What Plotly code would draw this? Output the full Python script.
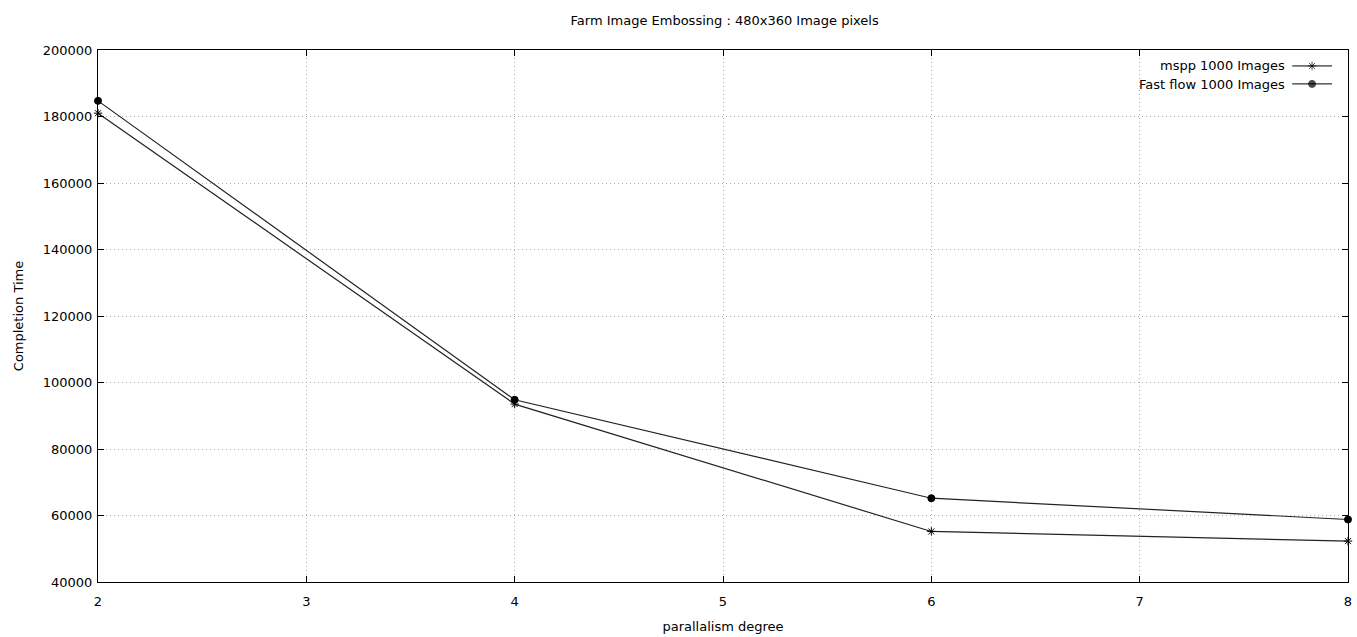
import plotly.graph_objects as go

# Parallelism degrees tested
degrees = [2, 4, 6, 8]

# Completion times for 1000 images
mspp_times = [181000, 93500, 55200, 52300]
fastflow_times = [184700, 94800, 65200, 58800]

series_names = ["mspp 1000 Images", "Fast flow 1000 Images"]
y_ticks = [40000, 60000, 80000, 100000, 120000, 140000, 160000, 180000, 200000]
y_tick_labels = [str(v) for v in y_ticks]
x_ticks = [2, 3, 4, 5, 6, 7, 8]

FONT = "DejaVu Sans"
FS = 13
symbols = ["asterisk-open", "circle"]
sizes = [7, 7]

fig = go.Figure()
for name, vals, sym, sz in zip(series_names, [mspp_times, fastflow_times], symbols, sizes):
    fig.add_trace(go.Scatter(
        x=degrees, y=vals, name=name, mode="lines+markers",
        line=dict(color="#222222", width=1.2),
        marker=dict(symbol=sym, size=sz, color="black",
                    line=dict(color="black", width=1)),
        cliponaxis=False, showlegend=False,
    ))

# Key: text on the left, line sample with marker on the right
key_rows = [0.75, 0.25]
key_text_y = [0.970, 0.936]
for name, sym, sz, ry, ty in zip(series_names, symbols, sizes, key_rows, key_text_y):
    fig.add_trace(go.Scatter(
        x=[0, 0.5, 1], y=[ry, ry, ry], mode="lines+markers",
        line=dict(color="black", width=1),
        marker=dict(symbol=sym, size=[0, sz, 0], color="black",
                    line=dict(color="black", width=1)),
        xaxis="x2", yaxis="y2", showlegend=False, hoverinfo="skip",
        cliponaxis=False,
    ))
    fig.add_annotation(
        x=0.951, y=ty, xref="paper", yref="paper", text=name,
        showarrow=False, xanchor="right", yanchor="middle",
        font=dict(family=FONT, size=FS, color="black"),
    )

axis_common = dict(
    showline=True, linecolor="black", linewidth=1, mirror="ticks",
    ticks="inside", ticklen=6, tickcolor="black",
    showgrid=True, gridcolor="#b0b0b0", griddash="1px,3px", gridwidth=1,
    zeroline=False, tickfont=dict(family=FONT, size=FS, color="black"),
)

fig.update_layout(
    width=1357, height=637,
    margin=dict(l=98, r=5, t=50, b=54),
    paper_bgcolor="white", plot_bgcolor="white",
    title=dict(text="Farm Image Embossing : 480x360 Image pixels",
               x=0.534, xanchor="center", y=0.968, yanchor="middle",
               font=dict(family=FONT, size=FS, color="black")),
    xaxis=dict(range=[2, 8], tickvals=x_ticks,
               title=dict(text="parallalism degree", standoff=14,
                          font=dict(family=FONT, size=FS, color="black")),
               ticklabelstandoff=7, **axis_common),
    yaxis=dict(range=[40000, 200000], tickvals=y_ticks, ticktext=y_tick_labels,
               title=dict(text="Completion Time", standoff=16,
                          font=dict(family=FONT, size=FS, color="black")),
               ticklabelstandoff=2, **axis_common),
    xaxis2=dict(domain=[0.9553, 0.9872], range=[0, 1], visible=False,
                anchor="y2"),
    yaxis2=dict(domain=[0.9194, 0.9869], range=[0, 1], visible=False,
                anchor="x2"),
)

fig.write_html("out.html")
